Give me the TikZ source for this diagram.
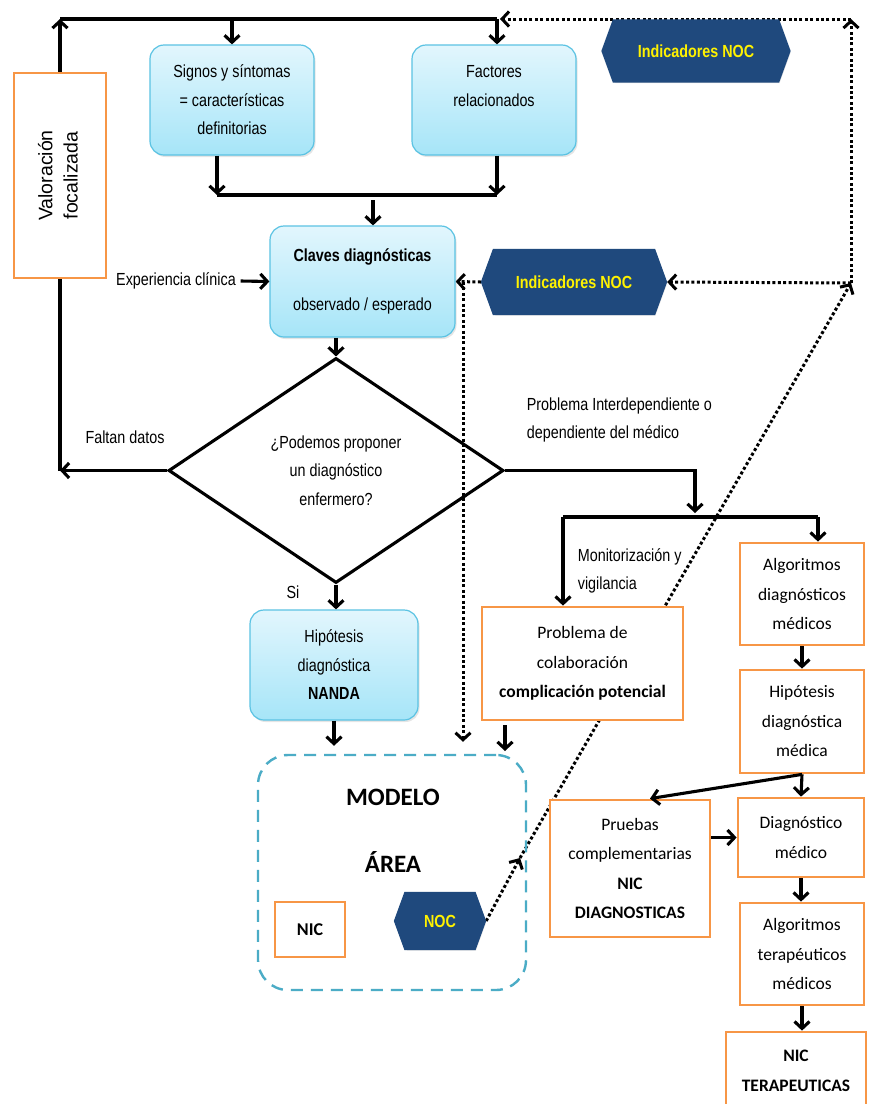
\documentclass[tikz,border=0pt]{standalone}
\usepackage{fontspec}
\setmainfont{Liberation Sans}[FakeStretch=0.82]
\newfontfamily\arial{Liberation Sans}
\newfontfamily\calibri{Carlito}
\usetikzlibrary{shapes.geometric,shapes.symbols,arrows.meta,shadows,backgrounds}

\definecolor{naranja}{HTML}{F79646}
\definecolor{celesteA}{HTML}{E2F6FD}
\definecolor{celesteB}{HTML}{A6E5F8}
\definecolor{celesteL}{HTML}{5BC3E3}
\definecolor{azulnoc}{HTML}{1F497D}
\definecolor{modelolinea}{HTML}{4BACC6}

\tikzset{
  caja/.style={rectangle, rounded corners=14pt, draw=celesteL, line width=1.2pt,
    top color=celesteA, bottom color=celesteB, align=center, inner sep=0pt,
    drop shadow={opacity=0.2, shadow xshift=1.5pt, shadow yshift=-2pt}},
  naranjabox/.style={rectangle, draw=naranja, line width=2.8pt, fill=white, align=center,
    inner sep=0pt, font=\calibri\fontsize{17.5}{29.5}\selectfont},
  indicador/.style={signal, signal to=west and east, signal pointer angle=140,
    fill=azulnoc, draw=azulnoc, text=yellow, inner sep=0pt,
    drop shadow={opacity=0.2, shadow xshift=1.5pt, shadow yshift=-2pt},
    font=\bfseries\fontsize{17.5}{20}\selectfont},
  punteado/.style={line width=3pt, dash pattern=on 3pt off 2.4pt},
}

\begin{document}
\begin{tikzpicture}[x=1pt, y=-1pt, line width=3.1pt,
  >={Straight Barb[length=7pt,width=15pt]},
  every node/.style={font=\fontsize{17.5}{28.5}\selectfont}]
\useasboundingbox (0,0) rectangle (874,1104);

% columna izquierda
\node[draw=naranja, line width=2.8pt, fill=white, minimum width=92, minimum height=205, inner sep=0pt,
  font=\arial\fontsize{19.5}{25}\selectfont] (valfoc) at (60,175.5)
  {\rotatebox{90}{\begin{tabular}{@{}c@{}}Valoración\\focalizada\end{tabular}}};
\node[caja, minimum width=164, minimum height=110] (signos) at (232,100) {Signos y síntomas\\= características\\definitorias};
\node[caja, minimum width=164, minimum height=110] (factores) at (494,100) {Factores\\relacionados\\\mbox{}};
\node[caja, minimum width=185, minimum height=111] (claves) at (362.5,281.5) {\textbf{Claves diagnósticas}\\[20pt]observado / esperado};
\node (expclin) at (176,281) {Experiencia clínica};
\node[diamond, draw, minimum width=335, minimum height=225, inner sep=0pt, align=center] (decision) at (336,470.5)
  {¿Podemos proponer\\un diagnóstico\\enfermero?};
\node (faltan) at (125,437) {Faltan datos};
\node (si) at (293,592) {Si};
\node[caja, minimum width=168, minimum height=110] (nanda) at (334,665) {Hipótesis\\diagnóstica\\\textbf{NANDA}};

% area del modelo
\node[draw=modelolinea, line width=2.4pt, dash pattern=on 12pt off 8pt, rounded corners=30pt,
  minimum width=268, minimum height=235] (modelo) at (392,872.5) {};
\node[font=\calibri\bfseries\fontsize{25}{30}\selectfont] (modtit) at (393,797) {MODELO};
\node[font=\calibri\bfseries\fontsize{25}{30}\selectfont] (area) at (393,862) {ÁREA};
\node[naranjabox, font=\calibri\bfseries\fontsize{18}{22}\selectfont, minimum width=70, minimum height=55] (nic) at (310,929.5) {NIC};
\node[indicador, minimum width=89, minimum height=55] (noc) at (440,921) {NOC};

% indicadores NOC
\node[indicador, minimum width=186, minimum height=60] (indsup) at (696,51) {Indicadores NOC};
\node[indicador, minimum width=183, minimum height=63] (indmed) at (574,282) {Indicadores NOC};

% rama derecha
\node[anchor=west, align=left] (interdep) at (522,420) {Problema Interdependiente o\\dependiente del médico};
\node[anchor=west, align=left] (monit) at (573,571) {Monitorización y\\vigilancia};
\node[naranjabox, minimum width=201, minimum height=113] (problema) at (582.5,663.5) {Problema de\\colaboración\\\textbf{complicación potencial}};
\node[naranjabox, minimum width=124, minimum height=102] (algdiag) at (802,594) {Algoritmos\\diagnósticos\\médicos};
\node[naranjabox, minimum width=124, minimum height=103] (hipmed) at (802,721.5) {Hipótesis\\diagnóstica\\médica};
\node[naranjabox, minimum width=126, minimum height=79] (diagmed) at (801,837.5) {Diagnóstico\\médico};
\node[naranjabox, minimum width=160, minimum height=137] (pruebas) at (630,868.5) {Pruebas\\complementarias\\\textbf{NIC}\\\textbf{DIAGNOSTICAS}};
\node[naranjabox, minimum width=124, minimum height=102] (algter) at (802,954) {Algoritmos\\terapéuticos\\médicos};
\node[naranjabox, minimum width=140, minimum height=78] (nicter) at (796,1071) {\textbf{NIC}\\\textbf{TERAPEUTICAS}};

\coordinate (topL) at (60,19);
\coordinate (topR) at (497,19);
\coordinate (dotTR) at (851,19);
\coordinate (dotBR) at (851,283);
\coordinate (uneL) at (217,195);
\coordinate (uneR) at (497,195);
\coordinate (uneC) at (373,195);
\coordinate (split) at (695,517);
\coordinate (splitL) at (563,517);
\coordinate (splitR) at (818,517);
\coordinate (nocmid) at (520,858);
\coordinate (vtop) at (463,282);
\coordinate (mtop) at (505,755);

% flujo principal
\draw[->] (valfoc.north) -- (topL);
\draw (topL) -- (topR);
\draw[->] (signos.north |- topL) -- (signos.north);
\draw[->] (topR) -- (topR |- factores.north);
\draw[->] (signos.south -| uneL) -- (uneL);
\draw[->] (factores.south -| uneR) -- (uneR);
\draw (uneL) -- (uneR);
\draw[->, shorten <=5pt] (uneC) -- (uneC |- claves.north);
\draw[->] (expclin.east) -- (claves.west);
\draw[->] (decision.north |- claves.south) -- (decision.north);
\draw[->] (decision.west) -- (valfoc.south |- decision.west);
\draw (valfoc.south |- decision.west) -- (valfoc.south);
\draw[->] (decision.south) -- (decision.south |- nanda.north);
\draw[->, shorten >=8pt] (nanda.south) -- (nanda.south |- modelo.north);
\draw[->, shorten >=4pt] (decision.east) -| (split);
\draw (splitL) -- (splitR);
\draw[->] (splitL) -- (splitL |- problema.north);
\draw[->] (splitR) -- (splitR |- algdiag.north);
\draw[->, shorten <=4pt, shorten >=4pt] (problema.south -| mtop) -- (mtop);
\draw[->] (algdiag.south) -- (hipmed.north);
\draw[->] (hipmed.south) -- (diagmed.north);
\draw[->] (hipmed.south) -- ([xshift=20pt]pruebas.north);
\draw[->] (pruebas.east |- diagmed.west) -- (diagmed.west);
\draw[->] (diagmed.south) -- (diagmed.south |- algter.north);
\draw[->] (algter.south) -- (algter.south |- nicter.north);

% lineas punteadas de los NOC
\begin{pgfonlayer}{background}
\fill[white] (0,0) rectangle (874,1104);
\draw[punteado, ->] (noc.east) -- (nocmid);
\draw[punteado, ->] (nocmid) -- (dotBR);
\draw[punteado, ->] (dotBR) -- (dotTR);
\draw[punteado, ->, shorten >=3pt] (dotTR) -- (topR);
\draw[punteado, ->] (dotBR) -- (indmed.east);
\draw[punteado, ->] (indmed.west) -- (claves.east);
\draw[punteado, ->, shorten >=12pt] (vtop) -- (vtop |- modelo.north);
\end{pgfonlayer}
\end{tikzpicture}
\end{document}
